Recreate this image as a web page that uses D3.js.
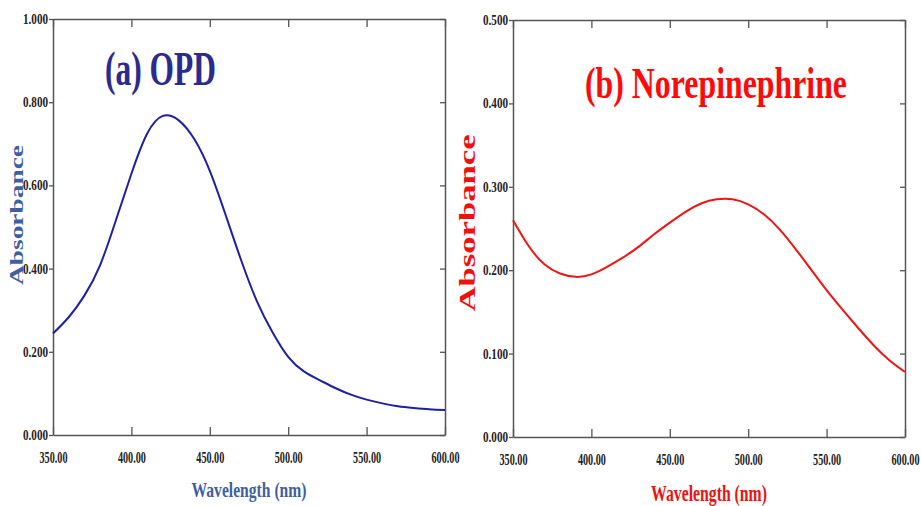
<!DOCTYPE html>
<html>
<head>
<meta charset="utf-8">
<script src="https://cdn.jsdelivr.net/npm/d3@7"></script>
<style>
  body { margin: 0; background: #fff; }
  svg { display: block; }
  text { font-family: "Liberation Serif", "Times New Roman", serif; font-weight: bold; }
</style>
</head>
<body>
<div id="chart"></div>
<script>
const width = 921,
  height = 506;

// wavelength grid (nm) shared by both spectra
const wavelength = [350, 360, 370, 380, 390, 400, 410, 420, 430, 440, 450, 460, 470, 480, 490,
  500, 510, 520, 530, 540, 550, 560, 570, 580, 590, 600];

// (a) OPD absorbance
const opdAbs = [0.244, 0.283, 0.335, 0.408, 0.515, 0.628, 0.724, 0.767, 0.757, 0.712, 0.635,
  0.530, 0.420, 0.322, 0.247, 0.188, 0.153, 0.132, 0.113, 0.097, 0.085, 0.076, 0.069, 0.065, 0.062, 0.060];

// (b) Norepinephrine absorbance
const nepAbs = [0.260, 0.229, 0.207, 0.196, 0.192, 0.195, 0.204, 0.215, 0.228, 0.243, 0.257,
  0.270, 0.280, 0.285, 0.285, 0.279, 0.267, 0.249, 0.226, 0.201, 0.176, 0.153, 0.131, 0.110, 0.092, 0.078];

const xTicks = [350, 400, 450, 500, 550, 600];
const yTicksA = [0, 0.2, 0.4, 0.6, 0.8, 1.0];
const yTicksB = [0, 0.1, 0.2, 0.3, 0.4, 0.5];

const svg = d3.select("#chart").append("svg").attr("width", width).attr("height", height);

function drawPanel(p) {
  const x = d3.scaleLinear().domain([350, 600]).range([p.left, p.right]);
  const y = d3.scaleLinear().domain(p.yDomain).range([p.bottom, p.top]);
  const g = svg.append("g");

  const styleAxis = sel => {
    sel.selectAll(".domain").attr("stroke", "#555").attr("stroke-width", 1.5);
    sel.selectAll(".tick line").attr("stroke", "#555").attr("stroke-width", 1.3);
  };

  // bottom axis: inward ticks, labels below
  const bx = g.append("g").attr("transform", `translate(0,${p.bottom})`)
    .call(d3.axisBottom(x).tickValues(xTicks).tickFormat(d3.format(".2f"))
      .tickSize(-8).tickSizeOuter(0).tickPadding(16));
  bx.call(styleAxis);
  bx.selectAll("text").attr("font-size", 17).attr("fill", "#222")
    .attr("textLength", 28).attr("lengthAdjust", "spacingAndGlyphs");

  // top axis
  g.append("g").attr("transform", `translate(0,${p.top})`)
    .call(d3.axisTop(x).tickValues(xTicks).tickFormat("").tickSize(-8).tickSizeOuter(0))
    .call(styleAxis);

  // left axis
  const ly = g.append("g").attr("transform", `translate(${p.left},0)`)
    .call(d3.axisLeft(y).tickValues(p.yTicks).tickFormat(d3.format(".3f"))
      .tickSize(4).tickSizeOuter(0).tickPadding(1));
  ly.call(styleAxis);
  ly.selectAll("text").attr("font-size", 14).attr("fill", "#222")
    .attr("textLength", 25).attr("lengthAdjust", "spacingAndGlyphs");

  // right axis
  g.append("g").attr("transform", `translate(${p.right},0)`)
    .call(d3.axisRight(y).tickValues(p.yTicks).tickFormat("").tickSize(-5).tickSizeOuter(0))
    .call(styleAxis);

  const line = d3.line()
    .x((d, i) => x(wavelength[i]))
    .y(d => y(d))
    .curve(d3.curveNatural);

  g.append("path")
    .datum(p.values)
    .attr("d", line)
    .attr("fill", "none")
    .attr("stroke", p.lineColor)
    .attr("stroke-width", 2);

  // panel title
  g.append("text")
    .attr("x", p.title.x).attr("y", p.title.y)
    .attr("font-size", p.title.size)
    .attr("fill", p.titleColor)
    .attr("textLength", p.title.len).attr("lengthAdjust", "spacingAndGlyphs")
    .text(p.title.text);

  // axis titles
  g.append("text")
    .attr("x", (p.left + p.right) / 2).attr("y", p.xLabel.y)
    .attr("text-anchor", "middle")
    .attr("font-size", p.xLabel.size)
    .attr("fill", p.labelColor)
    .attr("textLength", p.xLabel.len).attr("lengthAdjust", "spacingAndGlyphs")
    .text("Wavelength (nm)");

  g.append("text")
    .attr("transform", `translate(${p.yLabel.x},${p.yLabel.cy}) rotate(-90)`)
    .attr("text-anchor", "middle")
    .attr("font-size", p.yLabel.size)
    .attr("fill", p.labelColor)
    .attr("textLength", p.yLabel.len).attr("lengthAdjust", "spacingAndGlyphs")
    .text("Absorbance");
}

drawPanel({
  left: 53, right: 445, top: 19, bottom: 435,
  yDomain: [0, 1], yTicks: yTicksA,
  values: opdAbs,
  lineColor: "#1f1fa3", titleColor: "#2b2b8f", labelColor: "#3f5f9f",
  title: { text: "(a) OPD", x: 105, y: 85, size: 48, len: 111 },
  xLabel: { y: 497, size: 22, len: 115 },
  yLabel: { x: 23, cy: 215, size: 19, len: 140 }
});

drawPanel({
  left: 513, right: 905, top: 20, bottom: 437,
  yDomain: [0, 0.5], yTicks: yTicksB,
  values: nepAbs,
  lineColor: "#f01414", titleColor: "#ff0a0a", labelColor: "#f01010",
  title: { text: "(b) Norepinephrine", x: 585, y: 98, size: 45, len: 262 },
  xLabel: { y: 501, size: 23, len: 116 },
  yLabel: { x: 475, cy: 223, size: 24, len: 177 }
});
</script>
</body>
</html>
